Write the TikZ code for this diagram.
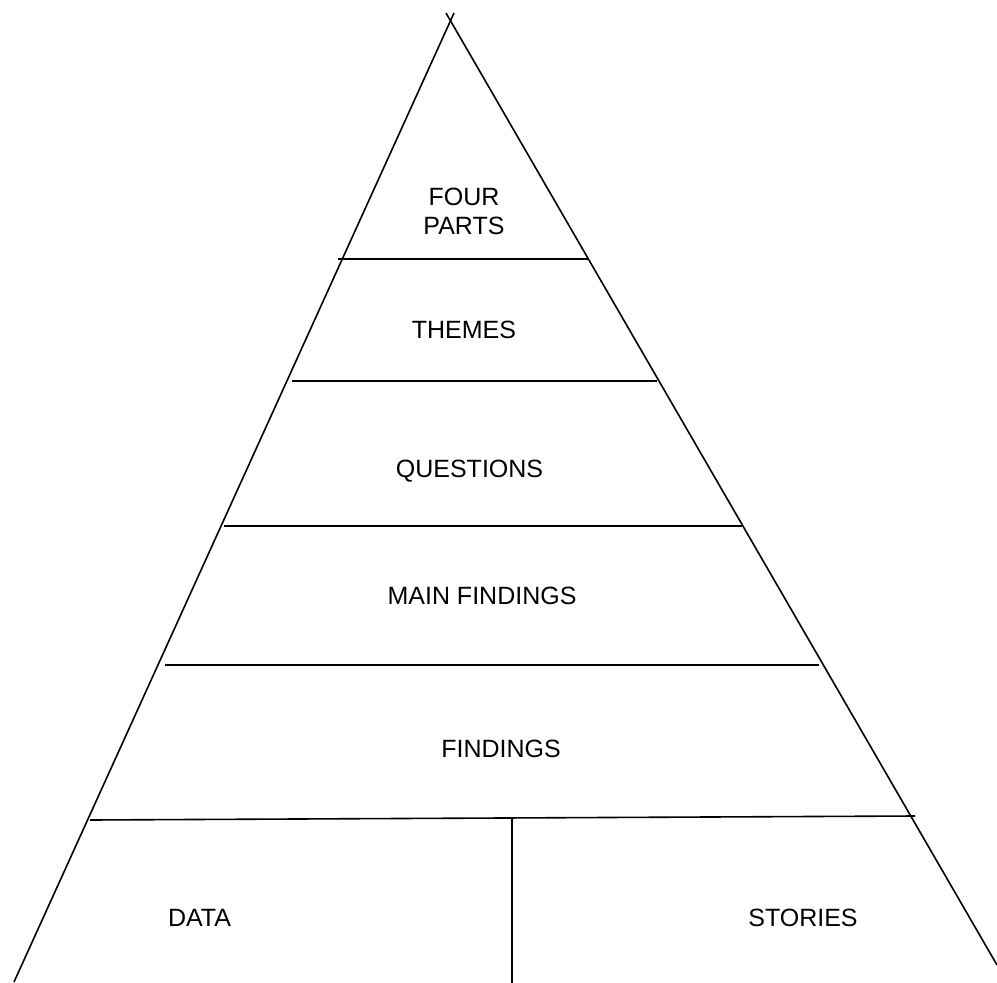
\documentclass[tikz,border=0pt]{standalone}
\usepackage{fontspec}
\setmainfont{Liberation Sans}

\tikzset{
  edge/.style={line width=1.6pt, black},
  lbl/.style={anchor=base, inner sep=0pt, font=\fontsize{25}{29.5}\selectfont}
}

\begin{document}
\begin{tikzpicture}[x=1pt, y=-1pt]
\useasboundingbox (0,0) rectangle (997,983);
% sides of the pyramid (they cross a little above the apex)
\coordinate (leftTop) at (454,13);
\coordinate (leftBot) at (14,982);
\coordinate (rightTop) at (446,13);
\coordinate (rightBot) at (997,965);
\draw[edge] (leftTop) -- (leftBot);
\draw[edge] (rightTop) -- (rightBot);
% layer separators
\foreach \i/\xa/\ya/\xb/\yb in {
    1/338/259/588/259,
    2/292/381/657/381,
    3/224/526/742/526,
    4/165/665/819/665,
    5/90/820/915/816}{
  \coordinate (sep\i W) at (\xa,\ya);
  \coordinate (sep\i E) at (\xb,\yb);
  \draw[edge] (sep\i W) -- (sep\i E);
}
% split of the base
\coordinate (baseTop) at (512,818);
\coordinate (baseBot) at (512,983);
\draw[edge] (baseTop) -- (baseBot);
% layer names
\node[lbl, align=center, anchor=center] (fourparts) at (464,211.5) {FOUR\\PARTS};
\foreach \n/\x/\y/\t in {
    themes/464/338/THEMES,
    questions/469.5/477/QUESTIONS,
    mainfind/482/604/MAIN FINDINGS,
    findings/501/757/FINDINGS,
    data/199.5/926/DATA,
    stories/803/926/STORIES}{
  \node[lbl] (\n) at (\x,\y) {\t};
}
\end{tikzpicture}
\end{document}
